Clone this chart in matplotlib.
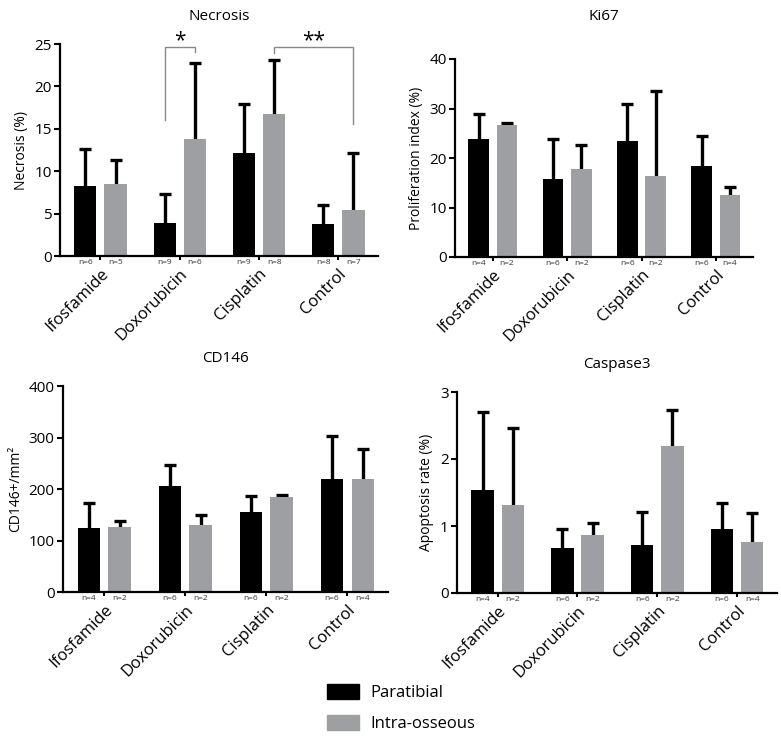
import numpy as np
import matplotlib
matplotlib.use("Agg")
import matplotlib.pyplot as plt
from matplotlib.patches import Patch

plt.rcParams['font.family'] = ['Open Sans', 'DejaVu Sans']

groups = ['Ifosfamide', 'Doxorubicin', 'Cisplatin', 'Control']

# Necrosis (%)
nec_par = [8.2, 3.9, 12.2, 3.8]
nec_par_err = [4.4, 3.4, 5.7, 2.2]
nec_int = [8.5, 13.8, 16.8, 5.4]
nec_int_err = [2.8, 9.0, 6.3, 6.8]
nec_n_par = [6, 9, 9, 8]
nec_n_int = [5, 6, 8, 7]

# Ki67 proliferation index (%)
ki_par = [23.8, 15.7, 23.4, 18.4]
ki_par_err = [5.1, 8.1, 7.5, 6.1]
ki_int = [26.7, 17.7, 16.4, 12.6]
ki_int_err = [0.3, 4.9, 17.2, 1.5]
ki_n_par = [4, 6, 6, 6]
ki_n_int = [2, 2, 2, 4]

# CD146+/mm2
cd_par = [124, 205, 156, 220]
cd_par_err = [48, 42, 31, 82]
cd_int = [126, 130, 184, 220]
cd_int_err = [11, 20, 4, 58]
cd_n_par = [4, 6, 6, 6]
cd_n_int = [2, 2, 2, 4]

# Caspase3 apoptosis rate (%)
cas_par = [1.53, 0.67, 0.72, 0.96]
cas_par_err = [1.17, 0.28, 0.49, 0.38]
cas_int = [1.32, 0.87, 2.20, 0.76]
cas_int_err = [1.14, 0.18, 0.53, 0.44]
cas_n_par = [4, 6, 6, 6]
cas_n_int = [2, 2, 2, 4]

black = '#000000'
grey = '#9E9FA3'
W, H = 781, 740

fig = plt.figure(figsize=(7.81, 7.4), dpi=100)


def px_axes(l, r, b, t):
    return fig.add_axes([l / W, 1 - b / H, (r - l) / W, (b - t) / H])


def panel(ax, par, par_err, intra, intra_err, n_par, n_int, ymax, step,
          ylabel, title, pad, xmax=3.5):
    x = np.arange(len(groups))
    off, bw = 0.19, 0.28
    # error bars sit behind the bars so only the upper half shows
    for xs, v, e in [(x - off, par, par_err), (x + off, intra, intra_err)]:
        ax.errorbar(xs, v, yerr=e, fmt='none', ecolor='black',
                    elinewidth=2.4, capsize=4.5, capthick=2.4, zorder=1)
    ax.bar(x - off, par, bw, color=black, zorder=2)
    ax.bar(x + off, intra, bw, color=grey, zorder=2)
    ax.set_xlim(-0.51, xmax)
    ax.set_ylim(0, ymax)
    ax.set_yticks(np.arange(0, ymax + step / 2, step))
    ax.set_xticks(x)
    ax.set_xticklabels(groups, rotation=45, ha='right',
                       rotation_mode='anchor', fontsize=12)
    ax.tick_params(axis='y', labelsize=11, width=1.5, length=4, pad=2)
    ax.tick_params(axis='x', width=1.5, length=3, pad=4)
    for s in ['top', 'right']:
        ax.spines[s].set_visible(False)
    for s in ['left', 'bottom']:
        ax.spines[s].set_linewidth(1.6)
        ax.spines[s].set_zorder(3)
    ax.set_ylabel(ylabel, fontsize=10, labelpad=4)
    ax.set_title(title, fontsize=11, pad=pad)
    for i in range(len(groups)):
        for xx, n in [(x[i] - off, n_par[i]), (x[i] + off, n_int[i])]:
            ax.annotate(f'n={n}', xy=(xx, 0), xycoords=('data', 'axes fraction'),
                        xytext=(0, -4.5), textcoords='offset points',
                        ha='center', va='center', fontsize=6, color='#333333')
    return x, off


ax1 = px_axes(60, 378, 256, 44)
x, off = panel(ax1, nec_par, nec_par_err, nec_int, nec_int_err, nec_n_par,
               nec_n_int, 25, 5, 'Necrosis (%)', 'Necrosis', 17)
# significance brackets
bc = '#888888'
ax1.plot([x[1] - off, x[1] - off, x[1] + off, x[1] + off],
         [16.0, 24.6, 24.6, 24.0], color=bc, lw=1, clip_on=False, zorder=4)
ax1.text(x[1], 25.4, '*', ha='center', va='center', fontsize=15)
ax1.plot([x[2] + off, x[2] + off, x[3] + off, x[3] + off],
         [23.9, 24.6, 24.6, 15.6], color=bc, lw=1, clip_on=False, zorder=4)
ax1.text((x[2] + x[3]) / 2 + off, 25.4, '**', ha='center', va='center',
         fontsize=15)

ax2 = px_axes(455, 753, 257, 59)
panel(ax2, ki_par, ki_par_err, ki_int, ki_int_err, ki_n_par, ki_n_int,
      40, 10, 'Proliferation index (%)', 'Ki67', 28, xmax=3.5)

ax3 = px_axes(63, 388, 592, 386)
panel(ax3, cd_par, cd_par_err, cd_int, cd_int_err, cd_n_par, cd_n_int,
      400, 100, 'CD146+/mm²', 'CD146', 17)

ax4 = px_axes(457, 777, 593, 392)
panel(ax4, cas_par, cas_par_err, cas_int, cas_int_err, cas_n_par, cas_n_int,
      3, 1, 'Apoptosis rate (%)', 'Caspase3', 17)

handles = [Patch(color=black, label='Paratibial'),
           Patch(color=grey, label='Intra-osseous')]
fig.legend(handles=handles, loc='upper left',
           bbox_to_anchor=(312 / W, 1 - 669 / H), frameon=False,
           fontsize=12, handlelength=1.9, handleheight=1.0,
           labelspacing=0.85, handletextpad=0.7)

fig.savefig('out.png', dpi=100)
